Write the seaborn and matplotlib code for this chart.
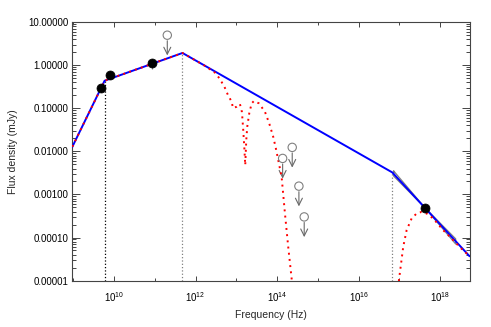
import numpy as np
import matplotlib
matplotlib.use("Agg")
import matplotlib.pyplot as plt
import seaborn as sns
from matplotlib.ticker import FixedLocator, NullFormatter, LogLocator, FormatStrFormatter

# afterglow model, log10(nu [Hz]) / log10(F [mJy])
model_lognu = [8.978, 9.77, 11.68, 16.825, 18.72]
model_logf = [-1.893, -0.358, 0.286, -2.488, -4.435]

# extincted / absorbed model (red dotted), radio-optical part
ext_lognu = [8.978, 9.77, 11.68, 12.231, 12.476, 12.599, 12.722, 12.795, 12.886, 12.918,
             13.009, 13.089, 13.138, 13.170, 13.195, 13.219, 13.244, 13.268, 13.317, 13.376,
             13.432, 13.555, 13.702, 13.807, 13.905, 13.979, 14.111, 14.192, 14.273, 14.356, 14.39]
ext_logf = [-1.893, -0.358, 0.286, -0.013, -0.172, -0.319, -0.528, -0.691, -0.847, -0.993,
            -0.963, -0.900, -1.086, -1.505, -1.893, -2.319, -1.737, -1.428, -1.116, -0.884,
            -0.830, -0.884, -1.079, -1.349, -1.660, -1.970, -2.591, -3.435, -4.219, -4.947, -5.4]

# absorbed model, X-ray part
xabs_lognu = [16.975, 16.988, 17.030, 17.093, 17.177, 17.299, 17.422, 17.545, 17.667, 17.829,
              18.074, 18.280, 18.484, 18.72]
xabs_logf = [-5.3, -4.993, -4.684, -4.219, -3.830, -3.558, -3.442, -3.405, -3.442, -3.558,
             -3.830, -4.023, -4.226, -4.435]

# detections (mJy)
det_nu = [10**9.674, 10**9.914, 10**10.944, 10**17.625]
det_f = [0.292, 0.589, 1.13, 4.9e-4]
det_err = [0.03, 0.05, 0.3, 0.5e-4]

# upper limits (mJy)
ul_nu = [10**11.307, 10**14.136, 10**14.371, 10**14.535, 10**14.665]
ul_f = [5.0, 6.87e-3, 1.24e-2, 1.56e-3, 3.01e-4]

# break frequencies and the vertical marker colours
break_lognu = [9.77, 11.68, 16.825]
break_logf = [-0.358, 0.286, -2.488]
break_col = ['black', 'gray', 'gray']

# X-ray bow tie (log nu, log F)
bow_lognu = [16.86, 18.38, 18.38, 16.86, 16.86]
bow_logf = [-2.455, -4.151, -4.031, -2.575, -2.455]

sns.set_style("ticks")
plt.rcParams['font.family'] = ['Liberation Sans', 'DejaVu Sans']
plt.rcParams['mathtext.fontset'] = 'custom'
plt.rcParams['mathtext.rm'] = 'Liberation Sans'
plt.rcParams['mathtext.it'] = 'Liberation Sans'

fig = plt.figure(figsize=(4.91, 3.27), dpi=100, facecolor='white')
ax = fig.add_axes([0.1473, 0.142, 0.8090, 0.790])
ax.set_xscale('log')
ax.set_yscale('log')

for lx, ly, c in zip(break_lognu, break_logf, break_col):
    ax.vlines(10**lx, 1e-5, 10**ly, colors=c, linestyles=':', linewidth=0.9, zorder=1)

ax.plot(np.power(10, bow_lognu), np.power(10, bow_logf), color='gray', lw=0.9, zorder=2)

sns.lineplot(x=np.power(10, model_lognu), y=np.power(10, model_logf), ax=ax,
             color='#0000ff', lw=1.4, estimator=None, sort=False, zorder=3)
sns.lineplot(x=np.power(10, ext_lognu), y=np.power(10, ext_logf), ax=ax,
             color='red', lw=1.4, ls=(0, (1, 2.2)), estimator=None, sort=False, zorder=4)
sns.lineplot(x=np.power(10, xabs_lognu), y=np.power(10, xabs_logf), ax=ax,
             color='red', lw=1.4, ls=(0, (1, 2.2)), estimator=None, sort=False, zorder=4)

ax.errorbar(det_nu, det_f, yerr=det_err, fmt='none', ecolor='gray', elinewidth=0.8, zorder=4)
sns.scatterplot(x=det_nu, y=det_f, ax=ax, color='black', s=42, edgecolor='black', zorder=5)

sns.scatterplot(x=ul_nu, y=ul_f, ax=ax, facecolor='none', edgecolor='gray', s=36,
                linewidth=0.8, zorder=5)
for nu, f in zip(ul_nu, ul_f):
    ax.annotate('', xy=(nu, f * 10**-0.47), xytext=(nu, f),
                arrowprops=dict(arrowstyle='->,head_length=0.5,head_width=0.25',
                                color='dimgray', lw=0.8, shrinkA=4, shrinkB=0))

ax.set_xlim(10**8.978, 10**18.72)
ax.set_ylim(1e-5, 10)

ax.xaxis.set_major_locator(FixedLocator([1e10, 1e12, 1e14, 1e16, 1e18]))
ax.xaxis.set_minor_locator(FixedLocator([1e9, 1e11, 1e13, 1e15, 1e17]))
ax.set_xticklabels(['10$^{10}$', '10$^{12}$', '10$^{14}$', '10$^{16}$', '10$^{18}$'])
ax.xaxis.set_minor_formatter(NullFormatter())
ax.yaxis.set_major_locator(LogLocator(base=10, numticks=20))
ax.yaxis.set_minor_locator(LogLocator(base=10, subs=np.arange(2, 10), numticks=20))
ax.yaxis.set_major_formatter(FormatStrFormatter('%.5f'))
ax.yaxis.set_minor_formatter(NullFormatter())

ax.tick_params(which='both', direction='in', top=True, right=True, colors='#444444',
               labelcolor='black', labelsize=7, width=0.7)
ax.tick_params(axis='x', which='major', length=3.6, pad=7)
ax.tick_params(axis='x', which='minor', length=2.2)
ax.tick_params(axis='y', which='major', length=5.8, pad=3)
ax.tick_params(axis='y', which='minor', length=2.9)
for s in ax.spines.values():
    s.set_color('#444444')
    s.set_linewidth(0.8)

ax.set_xlabel('Frequency (Hz)', fontsize=7.5, labelpad=4)
ax.set_ylabel('Flux density (mJy)', fontsize=7.5, labelpad=7)

fig.savefig('out.png', dpi=100, facecolor='white')
